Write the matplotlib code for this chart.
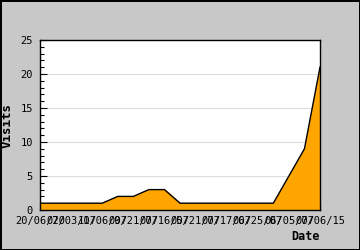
import matplotlib
matplotlib.use('Agg')
import matplotlib.pyplot as plt
from matplotlib.ticker import MultipleLocator

# visits per sample (19 samples, every other one labelled)
visits = [1, 1, 1, 1, 1, 2, 2, 3, 3, 1, 1, 1, 1, 1, 1, 1, 5, 9, 21]
tick_labels = ['20/06/20', '07/03/07', '11/06/07', '09/21/07', '07/16/07',
               '05/21/07', '07/17/07', '06/25/07', '06/05/07', '07/06/15']

x = list(range(len(visits)))

plt.rcParams['font.family'] = 'DejaVu Sans Mono'

fig = plt.figure(figsize=(3.6, 2.5), dpi=100, facecolor='#c8c8c8',
                 edgecolor='black', linewidth=1)
ax = fig.add_axes([40 / 360, 40 / 250, 280 / 360, 170 / 250])

ax.fill_between(x, visits, 0, color='#ffa500', zorder=2)
ax.plot(x, visits, color='black', lw=1, zorder=3)

ax.set_xlim(0, len(visits) - 1)
ax.set_ylim(0, 25)
ax.yaxis.set_major_locator(MultipleLocator(5))
ax.yaxis.set_minor_locator(MultipleLocator(1))
ax.set_xticks(x[::2])
ax.set_xticklabels(tick_labels)
ax.grid(axis='y', color='#dddddd', lw=0.8, zorder=0)
ax.set_axisbelow(True)

ax.tick_params(axis='both', direction='in', labelsize=7.5, color='black',
               length=5, width=0.8)
ax.tick_params(axis='y', which='minor', direction='in', length=3, width=0.8)
ax.tick_params(axis='x', pad=4)
ax.tick_params(axis='y', pad=5)
for s in ax.spines.values():
    s.set_linewidth(1)

ax.set_ylabel('Visits', fontsize=9, fontweight='bold', labelpad=5)
fig.text(305 / 360, 1 - 237 / 250, 'Date', fontsize=8.5, fontweight='bold',
         ha='center', va='center')

fig.savefig('out.png', dpi=100, facecolor=fig.get_facecolor(),
            edgecolor=fig.get_edgecolor())
